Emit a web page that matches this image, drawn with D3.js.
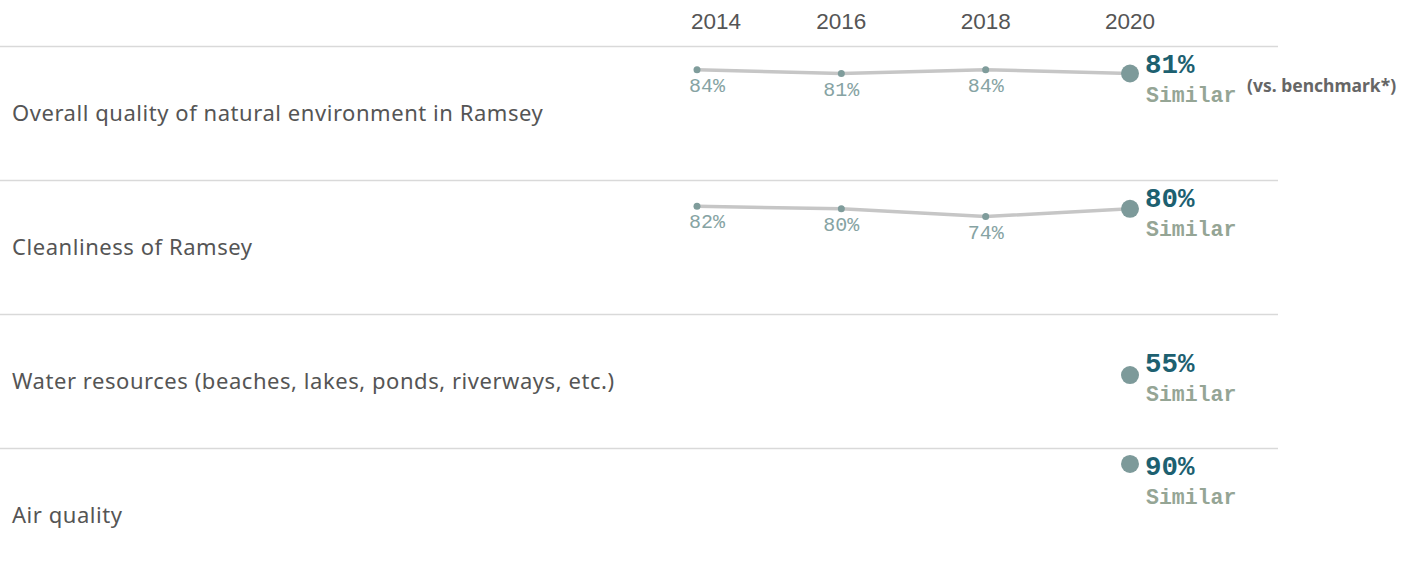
<!DOCTYPE html>
<html>
<head>
<meta charset="utf-8">
<script src="https://cdn.jsdelivr.net/npm/d3@7"></script>
<style>
  html, body { margin: 0; padding: 0; background: #fff; }
  svg { display: block; }
</style>
</head>
<body>
<svg id="chart" width="1413" height="581"></svg>
<script>
// Survey measures, one row each
const measures = [
  "Overall quality of natural environment in Ramsey",
  "Cleanliness of Ramsey",
  "Water resources (beaches, lakes, ponds, riverways, etc.)",
  "Air quality"
];
const years = [2014, 2016, 2018, 2020];
// Percent rating positive per year (null = not asked that year)
const overallQuality = [84, 81, 84, 81];
const cleanliness   = [82, 80, 74, 80];
const waterResources = [null, null, null, 55];
const airQuality    = [null, null, null, 90];
const comparison = ["Similar", "Similar", "Similar", "Similar"];
const benchmarkNote = "(vs. benchmark*)";

const seriesValues = [overallQuality, cleanliness, waterResources, airQuality];

const headerH = 46, rowH = 134;
const lineRight = 1278;
const plotLeftLimit = 689;

const svg = d3.select("#chart");

const x = d3.scaleLinear().domain([2014, 2020]).range([697, 1130]);
const y = d3.scaleLinear().domain([0, 100]).range([rowH - 2, 3]);
const rowY = d3.scaleBand().domain(d3.range(measures.length))
  .range([headerH, headerH + rowH * measures.length]);

const sans = "'Noto Sans', 'Open Sans', sans-serif";
const mono = "'Liberation Mono', 'Courier New', monospace";

// Keep a centred label from spilling left of the plot area
function clampLeft(sel, minX) {
  sel.each(function () {
    const t = d3.select(this);
    const w = this.getComputedTextLength();
    const cx = +t.attr("x");
    if (cx - w / 2 < minX) t.attr("x", minX + w / 2);
  });
}

// Year header
svg.append("g").selectAll("text").data(years).join("text")
  .attr("x", d => x(d))
  .attr("y", 29)
  .attr("text-anchor", "middle")
  .attr("font-family", "'Liberation Sans', Arial, sans-serif")
  .attr("font-size", 22.5)
  .attr("fill", "#555")
  .text(d => d)
  .call(clampLeft, 691);

// Row separators
svg.append("g").selectAll("line").data(d3.range(measures.length)).join("line")
  .attr("x1", 0).attr("x2", lineRight)
  .attr("y1", i => rowY(i) + 0.5).attr("y2", i => rowY(i) + 0.5)
  .attr("stroke", "#d9d9d9").attr("stroke-width", 1.5);

const rows = svg.append("g").selectAll("g.row").data(measures).join("g")
  .attr("class", "row")
  .attr("transform", (d, i) => `translate(0,${rowY(i)})`);

// Measure names
rows.append("text")
  .attr("x", 12).attr("y", 75)
  .attr("font-family", sans)
  .attr("font-size", 22)
  .attr("letter-spacing", 0.55)
  .attr("fill", "#555")
  .text(d => d);

const line = d3.line()
  .defined(d => d.v != null)
  .x(d => x(d.year))
  .y(d => y(d.v));

rows.each(function (name, i) {
  const g = d3.select(this);
  const pts = years.map((yr, j) => ({ year: yr, v: seriesValues[i][j] }));
  const valid = pts.filter(p => p.v != null);
  const past = valid.filter(p => p.year !== 2020);
  const cur = valid.find(p => p.year === 2020);

  if (valid.length > 1) {
    g.append("path").datum(valid)
      .attr("d", line)
      .attr("fill", "none")
      .attr("stroke", "#c6c6c6")
      .attr("stroke-width", 3.5)
      .attr("stroke-linejoin", "round");
  }

  g.selectAll("circle.past").data(past).join("circle")
    .attr("class", "past")
    .attr("cx", d => x(d.year)).attr("cy", d => y(d.v))
    .attr("r", 3.5).attr("fill", "#7f9c9b");

  g.selectAll("text.past").data(past).join("text")
    .attr("class", "past")
    .attr("x", d => x(d.year)).attr("y", d => y(d.v) + 22)
    .attr("text-anchor", "middle")
    .attr("font-family", mono)
    .attr("font-size", 20)
    .attr("fill", "#86a3a3")
    .text(d => d.v + "%")
    .call(clampLeft, plotLeftLimit);

  if (cur) {
    const cy = y(cur.v);
    g.append("circle")
      .attr("cx", x(cur.year)).attr("cy", cy)
      .attr("r", 9).attr("fill", "#7d9a9a");

    const base = Math.max(cy - 3, 27);
    g.append("text")
      .attr("x", x(cur.year) + 15).attr("y", base)
      .attr("font-family", mono)
      .attr("font-weight", "bold")
      .attr("font-size", 27.5)
      .attr("fill", "#1d6070")
      .text(cur.v + "%");
    g.append("text")
      .attr("x", x(cur.year) + 16).attr("y", base + 29)
      .attr("font-family", mono)
      .attr("font-weight", "bold")
      .attr("font-size", 21.5)
      .attr("fill", "#95a595")
      .text(comparison[i]);

    if (i === 0) {
      g.append("text")
        .attr("x", 1247).attr("y", base + 19)
        .attr("font-family", sans)
        .attr("font-weight", "bold")
        .attr("font-size", 17.5)
        .attr("fill", "#666")
        .text(benchmarkNote);
    }
  }
});
</script>
</body>
</html>
